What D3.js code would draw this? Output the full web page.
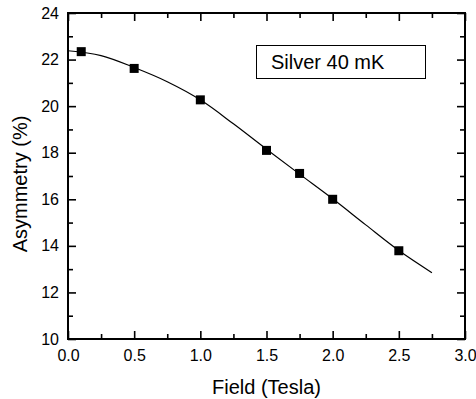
<!DOCTYPE html>
<html>
<head>
<meta charset="utf-8">
<script src="https://cdn.jsdelivr.net/npm/d3@7"></script>
<style>
  html, body { margin: 0; padding: 0; background: #fff; }
  svg { display: block; font-family: "Liberation Sans", Arial, Helvetica, sans-serif; }
</style>
</head>
<body>
<svg id="chart" width="476" height="399"></svg>
<script>
// Measured asymmetry of silver at 40 mK versus applied field
const fieldData = [0.1, 0.5, 1.0, 1.5, 1.75, 2.0, 2.5];
const asymData  = [22.34, 21.62, 20.27, 18.1, 17.11, 16.0, 13.79];

// Fitted curve through the measurements
const fieldFit = [0, 0.25, 0.5, 0.75, 1.0, 1.25, 1.5, 1.75, 2.0, 2.25, 2.5, 2.75];
const asymFit  = [22.38, 22.17, 21.66, 21.05, 20.27, 19.24, 18.15, 17.08, 16.02, 14.9, 13.8, 12.85];

const xTicks = [0.0, 0.5, 1.0, 1.5, 2.0, 2.5, 3.0];
const xMinorTicks = [0.25, 0.75, 1.25, 1.75, 2.25, 2.75];
const yTicks = [10, 12, 14, 16, 18, 20, 22, 24];
const yMinorTicks = [11, 13, 15, 17, 19, 21, 23];

const legendText = "Silver 40 mK";
const xTitle = "Field (Tesla)";
const yTitle = "Asymmetry (%)";

const svg = d3.select("#chart");
const L = 68, R = 465, T = 13, B = 339;

const x = d3.scaleLinear().domain([0, 3]).range([L, R]);
const y = d3.scaleLinear().domain([10, 24]).range([B, T]);

const major = 8, minor = 5;

// Inward-pointing ticks on all four sides
function tickSet(axisFn, scale, ticks, len, fmt) {
  return axisFn(scale).tickValues(ticks).tickSizeInner(-len).tickSizeOuter(0)
    .tickFormat(fmt || "");
}

const g = svg.append("g");

// bottom
g.append("g").attr("transform", `translate(0,${B})`)
  .call(tickSet(d3.axisBottom, x, xMinorTicks, minor));
g.append("g").attr("class", "xlab").attr("transform", `translate(0,${B})`)
  .call(tickSet(d3.axisBottom, x, xTicks, major, d3.format(".1f")).tickPadding(11));
// top
g.append("g").attr("transform", `translate(0,${T})`)
  .call(tickSet(d3.axisTop, x, xMinorTicks, minor));
g.append("g").attr("transform", `translate(0,${T})`)
  .call(tickSet(d3.axisTop, x, xTicks, major));
// left
g.append("g").attr("transform", `translate(${L},0)`)
  .call(tickSet(d3.axisLeft, y, yMinorTicks, minor));
g.append("g").attr("class", "ylab").attr("transform", `translate(${L},0)`)
  .call(tickSet(d3.axisLeft, y, yTicks, major, d3.format("d")).tickPadding(9));
// right
g.append("g").attr("transform", `translate(${R},0)`)
  .call(tickSet(d3.axisRight, y, yMinorTicks, minor));
g.append("g").attr("transform", `translate(${R},0)`)
  .call(tickSet(d3.axisRight, y, yTicks, major));

g.selectAll(".domain").remove();
g.selectAll(".tick line").attr("stroke", "#000").attr("stroke-width", 1.6);
g.selectAll(".tick text").attr("fill", "#000").attr("font-size", 16)
  .attr("font-family", "'Liberation Sans', Arial, sans-serif");
g.selectAll(".xlab .tick text").attr("dy", "0.71em");

// frame
svg.append("rect")
  .attr("x", L).attr("y", T).attr("width", R - L).attr("height", B - T)
  .attr("fill", "none").attr("stroke", "#000").attr("stroke-width", 2);

// fit curve
const fitPts = fieldFit.map((f, i) => [f, asymFit[i]]);
svg.append("path")
  .datum(fitPts)
  .attr("fill", "none").attr("stroke", "#000").attr("stroke-width", 1.2)
  .attr("d", d3.line().x(d => x(d[0])).y(d => y(d[1])).curve(d3.curveMonotoneX));

// data markers
const sq = 9;
svg.append("g").selectAll("rect")
  .data(fieldData.map((f, i) => [f, asymData[i]]))
  .join("rect")
  .attr("x", d => x(d[0]) - sq / 2).attr("y", d => y(d[1]) - sq / 2)
  .attr("width", sq).attr("height", sq).attr("fill", "#000");

// legend box
svg.append("rect")
  .attr("x", 256.5).attr("y", 45.5).attr("width", 169).attr("height", 33)
  .attr("fill", "#fff").attr("stroke", "#000").attr("stroke-width", 1);
svg.append("text")
  .attr("x", 271).attr("y", 68.5)
  .attr("font-size", 20).attr("fill", "#000")
  .text(legendText);

// axis titles
svg.append("text")
  .attr("x", (L + R) / 2).attr("y", 394)
  .attr("text-anchor", "middle").attr("font-size", 20).attr("fill", "#000")
  .text(xTitle);
svg.append("text")
  .attr("transform", `translate(27,184) rotate(-90)`)
  .attr("text-anchor", "middle").attr("font-size", 20).attr("fill", "#000")
  .text(yTitle);
</script>
</body>
</html>
